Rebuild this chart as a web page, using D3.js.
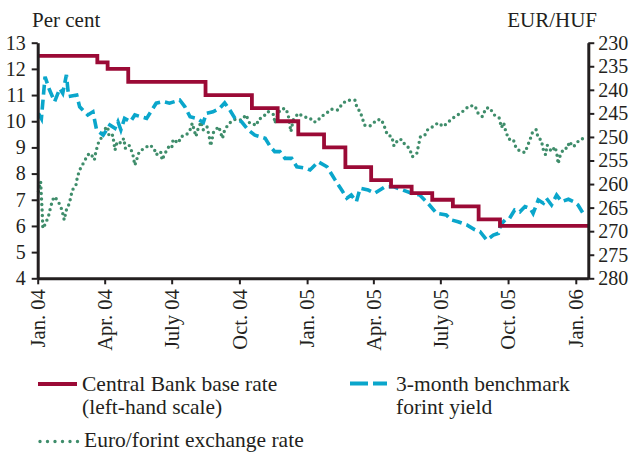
<!DOCTYPE html>
<html lang="en">
<head>
<meta charset="utf-8">
<title>Base rate, yield and EUR/HUF</title>
<script src="https://d3js.org/d3.v7.min.js"></script>
<style>
  html, body { margin: 0; padding: 0; background: #fff; }
  svg text { font-family: "Liberation Serif", "Times New Roman", serif; fill: #231f20; }
  .axis path, .axis line { stroke: #231f20; }
</style>
</head>
<body>
<div id="chart"></div>
<script>
// central bank base rate, value from that date on (left scale)
const baseRate = [
  ["2004-01-01", 12.5], ["2004-03-22", 12.25], ["2004-04-05", 12.0], ["2004-05-03", 11.5],
  ["2004-08-16", 11.0], ["2004-10-18", 10.5], ["2004-11-22", 10.0], ["2004-12-20", 9.5],
  ["2005-01-24", 9.0], ["2005-02-22", 8.25], ["2005-03-29", 7.75], ["2005-04-25", 7.5],
  ["2005-05-23", 7.25], ["2005-06-20", 7.0], ["2005-07-18", 6.75], ["2005-08-22", 6.25],
  ["2005-09-20", 6.0], ["2006-01-18", 6.0]
];

// 3-month benchmark yield (left scale)
const yieldData = [
  ["2004-01-02",10.3],["2004-01-06",10.1],["2004-01-11",11.7],["2004-01-17",11.2],["2004-01-24",10.75],
  ["2004-01-31",11.25],["2004-02-04",11.07],["2004-02-09",11.77],["2004-02-12",10.94],["2004-02-23",11.0],
  ["2004-02-27",10.55],["2004-03-09",10.24],["2004-03-16",10.36],["2004-03-21",9.67],["2004-03-30",9.47],
  ["2004-04-08",9.86],["2004-04-15",9.73],["2004-04-19",9.98],["2004-04-23",9.67],["2004-04-28",10.11],
  ["2004-05-06",9.98],["2004-05-12",10.24],["2004-05-28",10.11],["2004-06-10",10.69],["2004-06-19",10.75],
  ["2004-06-28",10.69],["2004-07-12",10.81],["2004-07-19",10.55],["2004-07-26",10.17],["2004-08-04",10.11],
  ["2004-08-13",9.95],["2004-08-17",10.3],["2004-08-26",10.36],["2004-09-04",10.49],["2004-09-11",10.7],
  ["2004-09-18",10.43],["2004-09-25",10.11],["2004-10-04",9.98],["2004-10-13",9.67],["2004-10-22",9.47],
  ["2004-11-05",9.35],["2004-11-12",9.03],["2004-11-18",8.84],["2004-11-25",8.84],["2004-12-02",8.58],
  ["2004-12-11",8.58],["2004-12-18",8.26],["2004-12-31",8.2],["2005-01-05",8.14],["2005-01-16",8.45],
  ["2005-01-28",8.26],["2005-02-08",7.76],["2005-02-17",7.37],["2005-02-24",7.06],["2005-03-02",7.18],
  ["2005-03-09",6.93],["2005-03-14",7.44],["2005-03-25",7.37],["2005-04-03",7.25],["2005-04-17",7.5],
  ["2005-04-28",7.5],["2005-05-11",7.37],["2005-05-23",7.25],["2005-06-03",7.18],["2005-06-14",6.87],
  ["2005-06-26",6.48],["2005-07-09",6.42],["2005-07-16",6.23],["2005-07-25",6.16],["2005-08-06",6.04],
  ["2005-08-17",5.85],["2005-08-24",5.78],["2005-09-02",5.46],["2005-09-11",5.65],["2005-09-18",5.72],
  ["2005-09-21",6.04],["2005-09-27",6.23],["2005-10-03",6.29],["2005-10-10",6.61],["2005-10-17",6.54],
  ["2005-10-24",6.74],["2005-10-31",6.67],["2005-11-04",6.48],["2005-11-11",6.99],["2005-11-18",6.87],
  ["2005-11-22",7.06],["2005-11-29",6.8],["2005-12-06",7.18],["2005-12-13",6.93],["2005-12-22",7.02],
  ["2005-12-29",6.93],["2006-01-04",6.8],["2006-01-11",6.48]
];

// EUR/HUF (right scale, reversed)
const eurHuf = [
  ["2004-01-02",261.6],["2004-01-05",259.5],["2004-01-06",262.7],["2004-01-07",265.5],["2004-01-08",269.4],
  ["2004-01-12",268.3],["2004-01-16",266.6],["2004-01-19",264.6],["2004-01-23",262.7],["2004-01-28",263.4],
  ["2004-01-31",264.4],["2004-02-03",265.5],["2004-02-06",267.6],["2004-02-09",265.5],["2004-02-13",264.1],
  ["2004-02-17",261.3],["2004-02-22",260.2],["2004-02-24",258.4],["2004-02-28",256.7],["2004-03-04",255.3],
  ["2004-03-09",253.8],["2004-03-13",253.5],["2004-03-18",254.9],["2004-03-20",253.1],["2004-03-24",251.0],
  ["2004-03-27",250.3],["2004-03-31",248.5],["2004-04-05",247.8],["2004-04-07",249.9],["2004-04-12",249.6],
  ["2004-04-15",252.8],["2004-04-18",251.0],["2004-04-23",251.3],["2004-04-27",250.3],["2004-04-29",252.4],
  ["2004-05-04",251.7],["2004-05-09",253.5],["2004-05-12",256.0],["2004-05-18",253.1],["2004-05-25",252.4],
  ["2004-06-01",251.7],["2004-06-07",252.4],["2004-06-10",253.8],["2004-06-16",253.1],["2004-06-18",254.9],
  ["2004-06-22",253.5],["2004-06-27",252.1],["2004-07-01",252.4],["2004-07-03",250.5],["2004-07-10",251.3],
  ["2004-07-14",249.9],["2004-07-21",249.6],["2004-07-26",248.5],["2004-07-29",247.1],["2004-08-03",249.9],
  ["2004-08-06",248.2],["2004-08-10",246.8],["2004-08-13",248.5],["2004-08-18",247.8],["2004-08-21",249.9],
  ["2004-08-23",251.9],["2004-08-27",248.9],["2004-09-03",247.8],["2004-09-08",250.3],["2004-09-11",248.5],
  ["2004-09-17",247.1],["2004-09-25",246.3],["2004-10-04",246.4],["2004-10-10",245.3],["2004-10-15",247.1],
  ["2004-10-25",247.5],["2004-10-26",246.4],["2004-11-02",245.8],["2004-11-09",244.6],["2004-11-17",245.3],
  ["2004-11-18",247.1],["2004-11-25",244.3],["2004-12-02",243.9],["2004-12-06",245.0],["2004-12-10",248.9],
  ["2004-12-13",246.4],["2004-12-20",245.0],["2004-12-27",245.7],["2005-01-05",246.0],["2005-01-09",246.8],
  ["2005-01-14",246.8],["2005-01-20",245.7],["2005-01-27",245.0],["2005-02-03",244.1],["2005-02-12",244.3],
  ["2005-02-18",242.9],["2005-02-25",242.2],["2005-03-07",242.2],["2005-03-10",243.9],["2005-03-14",244.6],
  ["2005-03-17",246.0],["2005-03-20",247.5],["2005-03-27",247.7],["2005-04-01",247.1],["2005-04-05",246.4],
  ["2005-04-12",246.3],["2005-04-17",248.2],["2005-04-20",249.6],["2005-04-26",249.9],["2005-04-29",251.9],
  ["2005-05-05",250.5],["2005-05-10",250.6],["2005-05-14",251.7],["2005-05-20",252.4],["2005-05-24",254.2],
  ["2005-05-30",253.5],["2005-06-02",251.3],["2005-06-04",249.9],["2005-06-10",249.6],["2005-06-14",248.4],
  ["2005-06-21",247.8],["2005-06-28",247.0],["2005-07-05",247.8],["2005-07-12",246.8],["2005-07-18",246.0],
  ["2005-07-25",245.3],["2005-08-02",244.4],["2005-08-09",243.4],["2005-08-17",243.4],["2005-08-21",244.9],
  ["2005-08-27",245.7],["2005-09-01",243.9],["2005-09-06",243.8],["2005-09-12",245.3],["2005-09-19",246.0],
  ["2005-09-22",248.0],["2005-09-25",247.0],["2005-09-28",248.9],["2005-10-02",250.5],["2005-10-08",250.5],
  ["2005-10-12",252.4],["2005-10-18",253.1],["2005-10-24",253.3],["2005-10-27",252.1],["2005-10-31",250.5],
  ["2005-11-03",249.1],["2005-11-08",248.4],["2005-11-11",250.3],["2005-11-15",250.6],["2005-11-18",252.8],
  ["2005-11-21",253.8],["2005-11-23",251.7],["2005-11-29",253.1],["2005-12-04",252.1],["2005-12-07",254.2],
  ["2005-12-08",255.7],["2005-12-11",253.8],["2005-12-16",252.4],["2005-12-21",252.4],["2005-12-23",251.0],
  ["2005-12-29",252.1],["2006-01-02",251.3],["2006-01-07",250.5],["2006-01-13",250.3],["2006-01-17",250.3]
];

const tickDates = ["2004-01-01","2004-04-01","2004-07-01","2004-10-01","2005-01-01",
                   "2005-04-01","2005-07-01","2005-10-01","2006-01-01"];
const tickLabels = ["Jan. 04","Apr. 04","July 04","Oct. 04","Jan. 05",
                    "Apr. 05","July 05","Oct. 05","Jan. 06"];
const leftTicks = [4, 5, 6, 7, 8, 9, 10, 11, 12, 13];
const rightTicks = [230, 235, 240, 245, 250, 255, 260, 265, 270, 275, 280];

const RED = "#9b0a36", BLUE = "#0aa6cb", GREEN = "#3f8d6b";

var width = 633, height = 453,
    margin = {top: 42.7, right: 44.7, bottom: 174.7, left: 37.7},
    w = width - margin.left - margin.right,
    h = height - margin.top - margin.bottom;

var parse = d3.timeParse("%Y-%m-%d");

var x = d3.scaleTime()
    .domain([parse("2004-01-01"), parse("2006-01-18")])
    .range([0, w]);
var yL = d3.scaleLinear().domain([4, 13]).range([h, 0]);
var yR = d3.scaleLinear().domain([280, 230]).range([h, 0]);

var svg = d3.select("#chart").append("svg")
    .attr("width", width)
    .attr("height", height);

var g = svg.append("g")
    .attr("transform", "translate(" + margin.left + "," + margin.top + ")");

// lines
var lineL = d3.line()
    .x(function (d) { return x(parse(d[0])); })
    .y(function (d) { return yL(d[1]); });
var lineR = d3.line()
    .x(function (d) { return x(parse(d[0])); })
    .y(function (d) { return yR(d[1]); });

g.append("path")
    .datum(eurHuf)
    .attr("d", lineR)
    .attr("fill", "none")
    .attr("stroke", GREEN)
    .attr("stroke-width", 3.4)
    .attr("stroke-linecap", "round")
    .attr("stroke-dasharray", "0,5.5");

g.append("path")
    .datum(yieldData)
    .attr("d", lineL)
    .attr("fill", "none")
    .attr("stroke", BLUE)
    .attr("stroke-width", 3.6)
    .attr("stroke-dasharray", "10,5");

g.append("path")
    .datum(baseRate)
    .attr("d", lineL.curve(d3.curveStepAfter))
    .attr("fill", "none")
    .attr("stroke", RED)
    .attr("stroke-width", 3.8);

// axes
var xAxis = d3.axisBottom(x)
    .tickValues(tickDates.map(parse))
    .tickSize(6)
    .tickSizeOuter(0)
    .tickFormat(function (d, i) { return tickLabels[i]; });

var gx = g.append("g").attr("class", "axis")
    .attr("transform", "translate(0," + h + ")")
    .call(xAxis);
gx.selectAll("text")
    .attr("font-size", 20.5)
    .attr("text-anchor", "end")
    .attr("transform", "translate(0,11) rotate(-90)")
    .attr("x", 0).attr("y", 0)
    .attr("dy", "0.33em");

var gl = g.append("g").attr("class", "axis")
    .call(d3.axisLeft(yL).tickValues(leftTicks).tickSize(6).tickSizeOuter(0).tickPadding(6));
gl.selectAll("text").attr("font-size", 20);

var gr = g.append("g").attr("class", "axis")
    .attr("transform", "translate(" + w + ",0)")
    .call(d3.axisRight(yR).tickValues(rightTicks).tickSize(6).tickSizeOuter(0).tickPadding(4));
gr.selectAll("text").attr("font-size", 20);

svg.selectAll(".axis path").attr("stroke-width", 3);
svg.selectAll(".axis line").attr("stroke-width", 2);
svg.selectAll(".axis text").attr("font-family", null);

// axis titles
svg.append("text").attr("x", 32).attr("y", 27).attr("font-size", 21).text("Per cent");
svg.append("text").attr("x", 597).attr("y", 27).attr("font-size", 21)
    .attr("text-anchor", "end").text("EUR/HUF");

// legend
var lg = svg.append("g");
lg.append("line").attr("x1", 38).attr("x2", 77).attr("y1", 384).attr("y2", 384)
    .attr("stroke", RED).attr("stroke-width", 3.8);
lg.append("text").attr("x", 82).attr("y", 391).attr("font-size", 21.5).text("Central Bank base rate");
lg.append("text").attr("x", 82).attr("y", 414).attr("font-size", 21.5).text("(left-hand scale)");

lg.append("line").attr("x1", 350).attr("x2", 387).attr("y1", 383.5).attr("y2", 383.5)
    .attr("stroke", BLUE).attr("stroke-width", 4).attr("stroke-dasharray", "18,5");
lg.append("text").attr("x", 396).attr("y", 391).attr("font-size", 21.5).text("3-month benchmark");
lg.append("text").attr("x", 396).attr("y", 414).attr("font-size", 21.5).text("forint yield");

lg.append("line").attr("x1", 40).attr("x2", 78).attr("y1", 441.5).attr("y2", 441.5)
    .attr("stroke", GREEN).attr("stroke-width", 3.4)
    .attr("stroke-linecap", "round").attr("stroke-dasharray", "0,7.5");
lg.append("text").attr("x", 84).attr("y", 447).attr("font-size", 21.5).text("Euro/forint exchange rate");
</script>
</body>
</html>
